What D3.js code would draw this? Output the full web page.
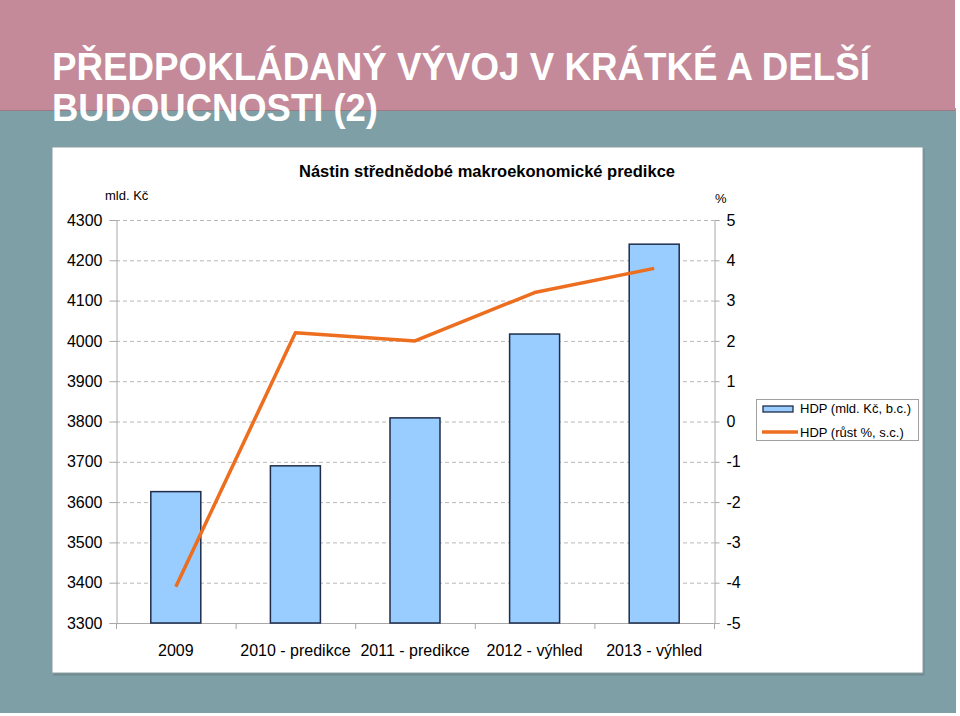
<!DOCTYPE html>
<html><head><meta charset="utf-8">
<script src="https://cdn.jsdelivr.net/npm/d3@7"></script>
<style>html,body{margin:0;padding:0;background:#fff}svg{display:block}</style>
</head><body>
<svg id="c" width="960" height="716"></svg>
<script>
const pageTitle = ["PŘEDPOKLÁDANÝ VÝVOJ V KRÁTKÉ A DELŠÍ", "BUDOUCNOSTI (2)"];
const chartTitle = "Nástin střednědobé makroekonomické predikce";
const categories = ["2009", "2010 - predikce", "2011 - predikce", "2012 - výhled", "2013 - výhled"];
const gdpLevel = [3626, 3690, 3809, 4017, 4240];
const gdpGrowth = [-4.1, 2.2, 2.0, 3.2, 3.8];
const leftTicks = [3300, 3400, 3500, 3600, 3700, 3800, 3900, 4000, 4100, 4200, 4300];
const rightTicks = [-5, -4, -3, -2, -1, 0, 1, 2, 3, 4, 5];
const seriesNames = ["HDP (mld. Kč, b.c.)", "HDP (růst %, s.c.)"];
const leftUnit = "mld. Kč", rightUnit = "%";

const svg = d3.select("#c");
const font = "'Liberation Sans', Arial, sans-serif";

// background
svg.append("rect").attr("x",0).attr("y",0).attr("width",960).attr("height",716).attr("fill","#fff");
svg.append("rect").attr("x",0).attr("y",108).attr("width",956).attr("height",605).attr("fill","#7F9FA6");
svg.append("rect").attr("x",0).attr("y",0).attr("width",955).attr("height",110).attr("fill","#C48A99");
svg.append("line").attr("x1",0).attr("x2",955).attr("y1",110.5).attr("y2",110.5).attr("stroke","#9a7a84").attr("stroke-width",1);

// page title
const tl = [{t: pageTitle[0], y: 80, w: 818}, {t: pageTitle[1], y: 121, w: 326}];
svg.selectAll("text.pt").data(tl).join("text").attr("class","pt")
  .attr("x",52).attr("y",d=>d.y).text(d=>d.t)
  .attr("fill","#fff").attr("font-family","'Liberation Sans Narrow', 'Liberation Sans', Arial, sans-serif")
  .attr("font-weight","bold")
  .attr("font-size",38).attr("textLength",d=>d.w).attr("lengthAdjust","spacingAndGlyphs");

// panel
svg.append("rect").attr("x",53.5).attr("y",148.5).attr("width",871).attr("height",527).attr("fill","#6f8a90");
svg.append("rect").attr("x",52).attr("y",147).attr("width",871).attr("height",526).attr("fill","#fff").attr("stroke","#8c9ea2").attr("stroke-width",1);

// scales
const x = d3.scaleBand().domain(categories).range([116, 714]).padding(0);
const yL = d3.scaleLinear().domain([3300, 4300]).range([623, 220]);
const yR = d3.scaleLinear().domain([-5, 5]).range([623, 220]);

// grid
svg.append("g").selectAll("line").data(leftTicks.slice(1)).join("line")
  .attr("x1",116).attr("x2",714).attr("y1",d=>yL(d)+0.5).attr("y2",d=>yL(d)+0.5)
  .attr("stroke","#b8b8b8").attr("stroke-dasharray","4,3").attr("stroke-width",1);

// axes
const axL = svg.append("g").attr("transform","translate(116.5,0)")
  .call(d3.axisLeft(yL).tickValues(leftTicks).tickSize(7).tickPadding(7).tickFormat(d3.format("d")));
const axR = svg.append("g").attr("transform","translate(714.5,0)")
  .call(d3.axisRight(yR).tickValues(rightTicks).tickSize(5).tickPadding(7).tickFormat(d=>d<0?"-"+Math.abs(d):d));
const axB = svg.append("g").attr("transform","translate(0,623.5)")
  .call(d3.axisBottom(x).tickSize(0).tickPadding(21));
[axL, axR, axB].forEach(a => {
  a.selectAll("path.domain").attr("stroke","#a8a8a8");
  a.selectAll(".tick line").attr("stroke","#a8a8a8");
  a.selectAll("text").attr("font-family",font).attr("font-size",16).attr("fill","#000");
});
axB.selectAll("path.domain").attr("d","M116,0H714");
// category boundary ticks
svg.append("g").selectAll("line").data(categories.concat(["__end"])).join("line")
  .attr("x1",(d,i)=> i<categories.length ? x(d)+0.5 : 714.5)
  .attr("x2",(d,i)=> i<categories.length ? x(d)+0.5 : 714.5)
  .attr("y1",623).attr("y2",629).attr("stroke","#a8a8a8");

// bars
const bw = 50;
svg.append("g").selectAll("rect").data(gdpLevel).join("rect")
  .attr("x",(d,i)=>x(categories[i]) + x.bandwidth()/2 - bw/2)
  .attr("y",d=>yL(d)).attr("width",bw).attr("height",d=>yL(3300)-yL(d))
  .attr("fill","#99CCFF").attr("stroke","#1F2D4A").attr("stroke-width",1.5);

// line
const line = d3.line().x((d,i)=>x(categories[i]) + x.bandwidth()/2).y(d=>yR(d));
svg.append("path").datum(gdpGrowth).attr("d",line).attr("fill","none")
  .attr("stroke","#EC6E1E").attr("stroke-width",3.5).attr("stroke-linejoin","round");

// chart title & units
svg.append("text").attr("x",487).attr("y",177).attr("text-anchor","middle")
  .attr("font-family",font).attr("font-weight","bold").attr("font-size",16.5).text(chartTitle);
svg.append("text").attr("x",105).attr("y",200).attr("font-family",font).attr("font-size",13).text(leftUnit);
svg.append("text").attr("x",715).attr("y",203).attr("font-family",font).attr("font-size",13).text(rightUnit);

// legend
const lg = svg.append("g");
lg.append("rect").attr("x",756.5).attr("y",399.5).attr("width",162).attr("height",41).attr("fill","#fff").attr("stroke","#a0a0a0");
lg.append("rect").attr("x",763).attr("y",406).attr("width",30).attr("height",6).attr("fill","#99CCFF").attr("stroke","#1F2D4A").attr("stroke-width",1.3);
lg.append("line").attr("x1",762).attr("x2",798).attr("y1",432).attr("y2",432).attr("stroke","#EC6E1E").attr("stroke-width",3.5);
lg.selectAll("text").data(seriesNames).join("text")
  .attr("x",800).attr("y",(d,i)=>413 + i*24).attr("font-family",font).attr("font-size",13).text(d=>d);
</script>
</body></html>
